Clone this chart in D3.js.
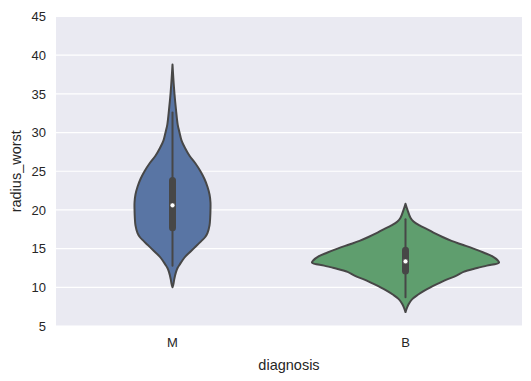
<!DOCTYPE html>
<html>
<head>
<meta charset="utf-8">
<script src="https://cdn.jsdelivr.net/npm/d3@7"></script>
<style>
  html, body { margin: 0; padding: 0; background: #ffffff; }
  svg { display: block; font-family: "Liberation Sans", Arial, sans-serif; }
</style>
</head>
<body>
<svg id="chart" width="531" height="381"></svg>
<script>
// ---- data ----
const categories = ["M", "B"];
const yTicks = [5, 10, 15, 20, 25, 30, 35, 40, 45];

// kernel density profiles: value on y axis, relative density (B peak = 100)
const densityValuesM = [10.0, 10.5, 11.0, 11.5, 12.0, 12.5, 13.0, 13.5, 14.0, 14.5, 15.0, 15.5, 16.0, 16.5, 17.0, 18.0, 19.0, 20.0, 21.0, 22.0, 23.0, 24.0, 25.0, 26.0, 27.0, 28.0, 29.0, 30.0, 31.0, 33.0, 35.0, 37.0, 38.8];
const densityM       = [0,    1.1,  1.8,  2.7,  3.8,  5.4,  8.0,  10.7, 13.9, 18.2, 22.5, 26.7, 31.0, 35.0, 37.4, 39.6, 40.3, 40.6, 40.6, 39.6, 37.4, 34.2, 29.9, 24.6, 18.2, 13.4, 9.6,  7.5,  5.6,  3.7,  2.1,  0.9,  0];
const densityValuesB = [6.8, 7.5, 8.0, 8.5, 9.0,  9.5,  10.0, 10.5, 11.0, 11.5, 12.0, 12.5, 12.8, 13.2, 13.5, 14.0, 14.5, 15.0, 15.5, 16.0, 16.5, 17.0, 17.5, 18.0, 18.5, 19.0, 20.0, 20.8];
const densityB       = [0,   2.1, 4.3, 7.5, 12.8, 19.3, 26.7, 35.3, 43.9, 54.5, 62.0, 76.5, 87.0, 100,  98.5, 93.0, 83.4, 72.7, 61.0, 49.2, 39.6, 31.0, 23.5, 15.0, 8.6,  5.3,  2.1,  0];

// box statistics
const q1 = [17.7, 12.1];
const median = [20.6, 13.35];
const q3 = [23.8, 14.8];
const whiskerLow = [12.8, 8.7];
const whiskerHigh = [32.6, 18.8];

const fills = ["#5975A4", "#5F9E6E"];
const gray = "#474747";

// ---- layout ----
const svg = d3.select("#chart");
const margin = { left: 56, right: 9, top: 16.5, bottom: 55 };
const W = 531, H = 381;
const iw = W - margin.left - margin.right;
const ih = H - margin.top - margin.bottom;
const g = svg.append("g").attr("transform", `translate(${margin.left},${margin.top})`);

const x = d3.scaleBand().domain(categories).range([0, iw]);
const y = d3.scaleLinear().domain([5, 45]).range([ih, 0]);
const wScale = d3.scaleLinear().domain([0, 100]).range([0, 93.5]);

g.append("rect").attr("width", iw).attr("height", ih).attr("fill", "#EAEAF2");

// grid
g.selectAll("line.grid").data(yTicks).enter().append("line")
  .attr("x1", 0).attr("x2", iw)
  .attr("y1", d => y(d)).attr("y2", d => y(d))
  .attr("stroke", "#ffffff").attr("stroke-width", 1.2);

// axes
const yAxis = g.append("g").call(d3.axisLeft(y).tickValues(yTicks).tickSize(0).tickPadding(10));
yAxis.select(".domain").remove();
yAxis.selectAll("text").attr("font-size", 13).attr("fill", "#262626").attr("font-family", "Liberation Sans, Arial, sans-serif");

const xAxis = g.append("g").attr("transform", `translate(0,${ih})`)
  .call(d3.axisBottom(x).tickSize(0).tickPadding(12));
xAxis.select(".domain").remove();
xAxis.selectAll("text").attr("font-size", 13).attr("fill", "#262626").attr("font-family", "Liberation Sans, Arial, sans-serif");

svg.append("text").attr("x", margin.left + iw / 2).attr("y", 370)
  .attr("text-anchor", "middle").attr("font-size", 14.5).attr("fill", "#262626")
  .text("diagnosis");
svg.append("text").attr("transform", `translate(21,${margin.top + ih / 2}) rotate(-90)`)
  .attr("text-anchor", "middle").attr("font-size", 14.5).attr("fill", "#262626")
  .text("radius_worst");

// violins
const profiles = [
  densityValuesM.map((v, i) => ({ v, d: densityM[i] })),
  densityValuesB.map((v, i) => ({ v, d: densityB[i] }))
];

categories.forEach((c, i) => {
  const cx = x(c) + x.bandwidth() / 2;
  const area = d3.area()
    .y(d => y(d.v))
    .x0(d => cx - wScale(d.d))
    .x1(d => cx + wScale(d.d))
    .curve(d3.curveCatmullRom.alpha(0.5));
  g.append("path").datum(profiles[i]).attr("d", area)
    .attr("fill", fills[i]).attr("stroke", gray).attr("stroke-width", 2)
    .attr("stroke-linejoin", "round");

  // whisker
  g.append("line").attr("x1", cx).attr("x2", cx)
    .attr("y1", y(whiskerLow[i])).attr("y2", y(whiskerHigh[i]))
    .attr("stroke", gray).attr("stroke-width", 2).attr("stroke-linecap", "round");
  // box
  g.append("line").attr("x1", cx).attr("x2", cx)
    .attr("y1", y(q1[i])).attr("y2", y(q3[i]))
    .attr("stroke", gray).attr("stroke-width", 7).attr("stroke-linecap", "round");
  // median
  g.append("circle").attr("cx", cx).attr("cy", y(median[i])).attr("r", 2.4)
    .attr("fill", "#ffffff").attr("stroke", gray).attr("stroke-width", 0.5);
});
</script>
</body>
</html>
